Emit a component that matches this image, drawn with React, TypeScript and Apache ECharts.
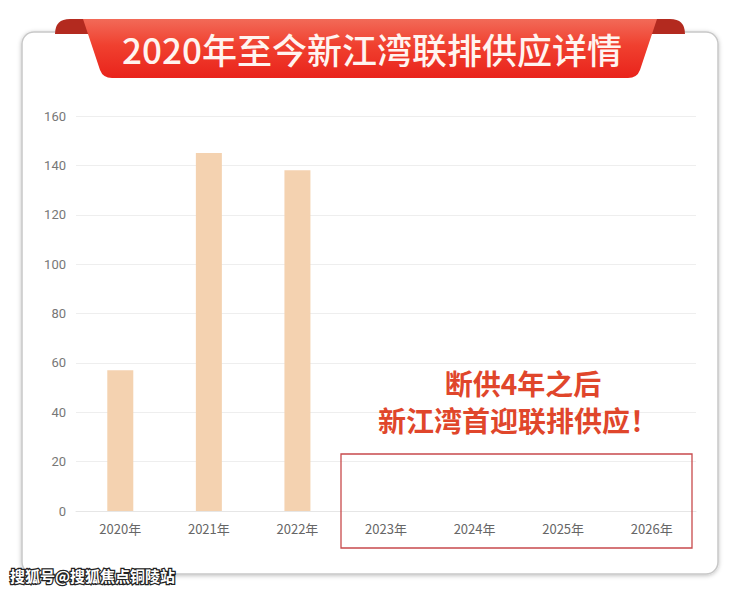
import React, { useEffect, useRef } from "react";
import * as echarts from "echarts";

const categories = ["2020年", "2021年", "2022年", "2023年", "2024年", "2025年", "2026年"];
const supplyValues = [57, 145, 138, null, null, null, null];
const titleText = "2020年至今新江湾联排供应详情";
const noteLine1 = "断供4年之后";
const noteLine2 = "新江湾首迎联排供应！";
const watermark = "搜狐号@搜狐焦点铜陵站";

const CJK = '"Noto Sans CJK SC", "Noto Sans", sans-serif';

export default function App() {
  const ref = useRef<HTMLDivElement>(null);
  useEffect(() => {
    document.body.style.margin = "0";
    if (!ref.current) return;
    echarts.graphic.registerShape(
      "ribbonMain",
      echarts.graphic.extendPath(
        "M 83 19 L 657 19 L 640 70 Q 637 78 628 78 L 112 78 Q 103 78 100 70 Z",
        {}
      )
    );
    echarts.graphic.registerShape(
      "foldLeft",
      echarts.graphic.extendPath("M 55 34 Q 55 19 70 19 L 84 19 L 89 34 Z", {})
    );
    echarts.graphic.registerShape(
      "foldRight",
      echarts.graphic.extendPath("M 685 34 Q 685 19 670 19 L 656 19 L 651 34 Z", {})
    );
    const chart = echarts.init(ref.current, null, { renderer: "svg" });
    chart.setOption({
      animation: false,
      backgroundColor: "#ffffff",
      grid: { left: 76, right: 44, top: 116, bottom: 80 },
      xAxis: {
        type: "category",
        data: categories,
        axisLine: { show: true, lineStyle: { color: "#e6e6e6" } },
        axisTick: { show: false },
        axisLabel: { color: "#666", fontSize: 13, margin: 11, fontFamily: CJK },
      },
      yAxis: {
        type: "value",
        min: 0,
        max: 160,
        interval: 20,
        axisLine: { show: false },
        axisTick: { show: false },
        splitLine: { lineStyle: { color: "#eeeeee" } },
        axisLabel: { color: "#777", fontSize: 13, margin: 10, fontFamily: "Roboto, sans-serif" },
      },
      series: [
        {
          type: "bar",
          data: supplyValues,
          barWidth: 26,
          itemStyle: { color: "#f4d2b0" },
          z: 2,
        },
      ],
      graphic: [
        {
          type: "rect",
          z: -10,
          shape: { x: 22, y: 32, width: 696, height: 542, r: 12 },
          style: {
            fill: "#ffffff",
            stroke: "#c8c8c8",
            lineWidth: 1.5,
            shadowBlur: 4,
            shadowColor: "rgba(0,0,0,0.25)",
            shadowOffsetY: 1,
          },
        },
        { type: "foldLeft", z: 10, style: { fill: "#b32a1f" } },
        { type: "foldRight", z: 10, style: { fill: "#b32a1f" } },
        {
          type: "ribbonMain",
          z: 11,
          style: {
            fill: new echarts.graphic.LinearGradient(0, 0, 0, 1, [
              { offset: 0, color: "#f26a58" },
              { offset: 0.45, color: "#f0402f" },
              { offset: 1, color: "#e9231b" },
            ]),
          },
        },
        {
          type: "text",
          z: 12,
          x: 372,
          y: 48,
          style: {
            text: titleText,
            fill: "#fff4f0",
            fontSize: 35,
            fontWeight: 500,
            fontFamily: CJK,
            align: "center",
            verticalAlign: "middle",
          },
        },
        {
          type: "text",
          z: 12,
          x: 523,
          y: 383,
          style: {
            text: noteLine1,
            fill: "#e0462b",
            fontSize: 28,
            fontWeight: "bold",
            fontFamily: CJK,
            align: "center",
            verticalAlign: "middle",
          },
        },
        {
          type: "text",
          z: 12,
          x: 518,
          y: 420,
          style: {
            text: noteLine2,
            fill: "#e0462b",
            fontSize: 28,
            fontWeight: "bold",
            fontFamily: CJK,
            align: "center",
            verticalAlign: "middle",
          },
        },
        {
          type: "rect",
          z: 12,
          shape: { x: 341, y: 454, width: 351, height: 94 },
          style: { fill: "none", stroke: "#c84a4c", lineWidth: 1.3 },
        },
        {
          type: "text",
          z: 12,
          x: 10,
          y: 575,
          style: {
            text: watermark,
            fill: "#ffffff",
            stroke: "#222",
            lineWidth: 2.5,
            fontSize: 15,
            fontWeight: "bold",
            fontFamily: CJK,
            align: "left",
            verticalAlign: "middle",
          },
        },
      ],
    });
    return () => chart.dispose();
  }, []);
  return <div ref={ref} style={{ width: 740, height: 591 }} />;
}
